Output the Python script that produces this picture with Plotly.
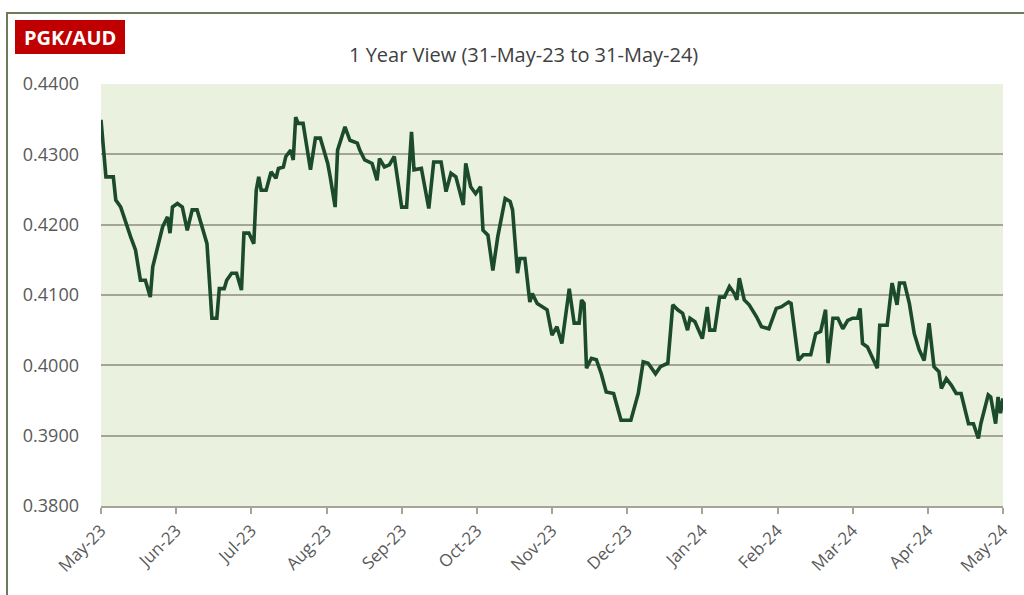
import plotly.graph_objects as go

# Day offsets from 31-May-23 and PGK/AUD rate
days = [0, 2, 5, 6, 8, 10, 12, 14, 16, 18, 20, 21, 23, 25, 27, 28, 29, 31, 33, 35,
        37, 39, 43, 45, 47, 48, 50, 51, 53, 55, 57, 58, 60, 62, 63, 64, 65, 67, 69, 71,
        72, 74, 75, 77, 78, 79, 80, 82, 85, 87, 89, 92, 93, 95, 96, 99, 101, 104, 105, 107,
        110, 112, 113, 115, 117, 119, 122, 124, 126, 127, 130, 133, 135, 138, 140, 142, 144, 147, 148, 150,
        152, 154, 155, 157, 159, 161, 164, 166, 167, 169, 170, 172, 174, 175, 177, 181, 183, 185, 187, 189,
        190, 192, 194, 195, 196, 197, 199, 201, 203, 205, 208, 211, 215, 218, 220, 222, 225, 227, 230, 232,
        234, 236, 238, 239, 241, 244, 246, 247, 249, 251, 253, 255, 257, 258, 259, 261, 263, 266, 268, 271,
        274, 276, 279, 280, 283, 285, 288, 290, 292, 294, 295, 297, 299, 301, 303, 305, 307, 308, 309, 311,
        313, 315, 316, 319, 321, 323, 324, 326, 328, 330, 332, 334, 336, 338, 340, 341, 343, 345, 347, 349,
        352, 354, 356, 357, 360, 361, 363, 364, 365, 366]
rates = [0.4349, 0.4268, 0.4268, 0.4235, 0.4225, 0.4202, 0.4183, 0.4164, 0.4121, 0.4121,
         0.4097, 0.4140, 0.4169, 0.4197, 0.4211, 0.4188, 0.4225, 0.4230, 0.4225, 0.4192,
         0.4221, 0.4221, 0.4173, 0.4067, 0.4067, 0.4109, 0.4109, 0.4121, 0.4131, 0.4131,
         0.4107, 0.4188, 0.4188, 0.4173, 0.4249, 0.4268, 0.4249, 0.4249, 0.4275, 0.4266,
         0.4280, 0.4282, 0.4297, 0.4306, 0.4292, 0.4353, 0.4344, 0.4344, 0.4278, 0.4323,
         0.4323, 0.4287, 0.4268, 0.4225, 0.4306, 0.4339, 0.4320, 0.4316, 0.4306, 0.4292,
         0.4287, 0.4263, 0.4294, 0.4282, 0.4285, 0.4297, 0.4225, 0.4225, 0.4332, 0.4278,
         0.4280, 0.4223, 0.4289, 0.4289, 0.4247, 0.4273, 0.4268, 0.4228, 0.4287, 0.4254,
         0.4244, 0.4254, 0.4192, 0.4185, 0.4135, 0.4183, 0.4237, 0.4233, 0.4221, 0.4131,
         0.4152, 0.4152, 0.4090, 0.4102, 0.4088, 0.4079, 0.4043, 0.4055, 0.4031, 0.4079,
         0.4109, 0.4060, 0.4060, 0.4093, 0.4088, 0.3996, 0.4010, 0.4008, 0.3988, 0.3962,
         0.3960, 0.3922, 0.3922, 0.3960, 0.4005, 0.4003, 0.3988, 0.3998, 0.4003, 0.4086,
         0.4079, 0.4074, 0.4050, 0.4067, 0.4062, 0.4038, 0.4083, 0.4050, 0.4050, 0.4097,
         0.4097, 0.4112, 0.4102, 0.4093, 0.4124, 0.4093, 0.4086, 0.4069, 0.4055, 0.4052,
         0.4081, 0.4083, 0.4090, 0.4088, 0.4007, 0.4015, 0.4015, 0.4045, 0.4048, 0.4079,
         0.4003, 0.4067, 0.4067, 0.4052, 0.4064, 0.4067, 0.4067, 0.4081, 0.4031, 0.4026,
         0.4012, 0.3996, 0.4057, 0.4057, 0.4117, 0.4086, 0.4117, 0.4117, 0.4088, 0.4045,
         0.4022, 0.4007, 0.4060, 0.3998, 0.3991, 0.3967, 0.3981, 0.3972, 0.3960, 0.3960,
         0.3917, 0.3917, 0.3896, 0.3917, 0.3958, 0.3955, 0.3917, 0.3955, 0.3932, 0.3953]

month_labels = ["May-23", "Jun-23", "Jul-23", "Aug-23", "Sep-23", "Oct-23", "Nov-23",
                "Dec-23", "Jan-24", "Feb-24", "Mar-24", "Apr-24", "May-24"]
y_ticks = [0.38, 0.39, 0.40, 0.41, 0.42, 0.43, 0.44]

total_days = 366
tick_pos = [i * total_days / (len(month_labels) - 1) for i in range(len(month_labels))]

W, H = 1024, 595
L, R, T, B = 101, 21, 84, 89
pw, ph = W - L - R, H - T - B


def px_to_paper(px, py):
    return (px - L) / pw, (H - B - py) / ph


font_family = "'Open Sans', Lato, Arial, sans-serif"

fig = go.Figure()
fig.add_trace(go.Scatter(
    x=days, y=rates, mode="lines",
    line=dict(color="#1c4a2c", width=3.6),
    hoverinfo="skip", showlegend=False,
))

tx, ty = px_to_paper(523, 55)
lx, ly = px_to_paper(70, 37)
rx0, ry0 = px_to_paper(15, 54)
rx1, ry1 = px_to_paper(125, 20)
fx0, fy0 = px_to_paper(7, 620)
fx1, fy1 = px_to_paper(1050, 13)

fig.update_layout(
    width=W, height=H,
    margin=dict(l=L, r=R, t=T, b=B),
    paper_bgcolor="white",
    plot_bgcolor="#ebf1df",
    font=dict(family=font_family, color="#595959"),
    xaxis=dict(
        range=[0, total_days], tickmode="array", tickvals=tick_pos, ticktext=month_labels,
        tickangle=-45, showgrid=False, zeroline=False,
        showline=True, linecolor="#a3a596", linewidth=2,
        ticks="outside", ticklen=6, tickwidth=2, tickcolor="#a3a596",
        tickfont=dict(size=17, color="#595959", family=font_family),
    ),
    yaxis=dict(
        range=[0.38, 0.44], tickmode="array", tickvals=y_ticks,
        ticktext=[f"{v:.4f}" for v in y_ticks],
        showgrid=True, gridcolor="#a3a596", gridwidth=2, zeroline=False,
        showline=False, ticks="", ticklabelstandoff=21,
        tickfont=dict(size=18, color="#595959", family=font_family),
    ),
    annotations=[
        dict(text="1 Year View (31-May-23 to 31-May-24)", x=tx, y=ty,
             xref="paper", yref="paper", showarrow=False,
             xanchor="center", yanchor="middle",
             font=dict(size=20, color="#404040", family=font_family)),
        dict(text="<b>PGK/AUD</b>", x=lx, y=ly,
             xref="paper", yref="paper", showarrow=False,
             xanchor="center", yanchor="middle",
             font=dict(size=20, color="white", family=font_family)),
    ],
    shapes=[
        dict(type="rect", xref="paper", yref="paper", layer="below",
             x0=fx0, x1=fx1, y0=fy0, y1=fy1,
             line=dict(color="#6e7b5a", width=2), fillcolor="rgba(0,0,0,0)"),
        dict(type="rect", xref="paper", yref="paper", layer="below",
             x0=rx0, x1=rx1, y0=ry0, y1=ry1,
             line=dict(width=0), fillcolor="#c00000"),
    ],
)

fig.write_html("out.html")
